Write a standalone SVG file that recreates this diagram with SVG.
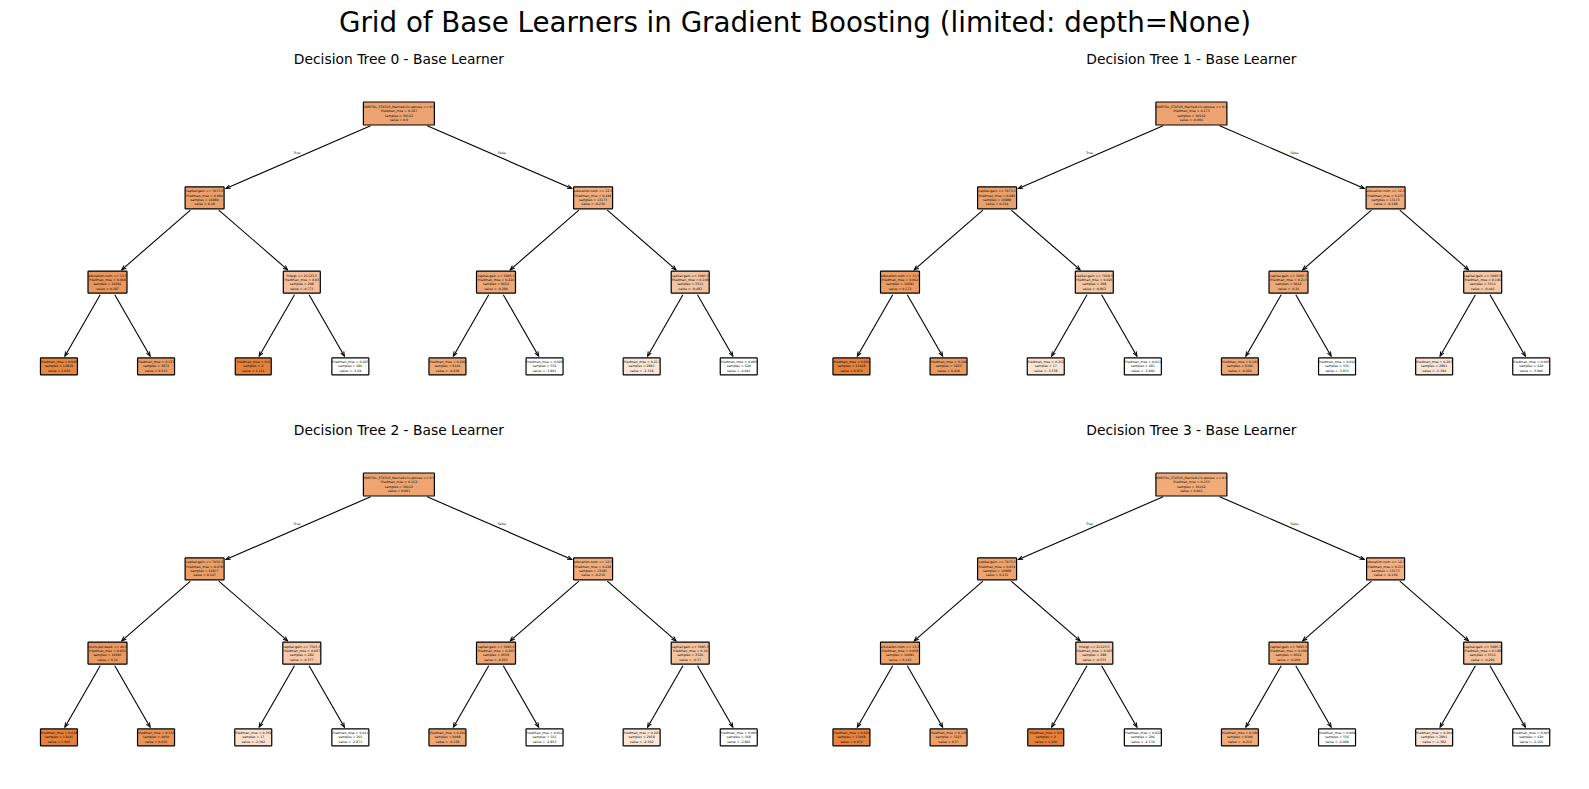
<svg xmlns="http://www.w3.org/2000/svg" width="1589" height="789" viewBox="0 0 1589 789">
<defs>
<style>
.bg{fill:#ffffff}
.title{font-family:"DejaVu Sans",sans-serif;font-size:27.7px;fill:#000;text-anchor:middle}
.sub{font-family:"DejaVu Sans",sans-serif;font-size:13.85px;fill:#000;text-anchor:middle}
.b{stroke:#000;stroke-width:1.2;}
.t{font-family:"DejaVu Sans",sans-serif;font-size:3.2px;fill:#000;text-anchor:middle}
.e{stroke:#000;stroke-width:1.1;fill:none;marker-end:url(#ah)}
.lbl{font-family:"DejaVu Sans",sans-serif;font-size:3.2px;fill:#000;text-anchor:middle}
</style>
<marker id="ah" markerUnits="userSpaceOnUse" markerWidth="6" markerHeight="6" viewBox="0 0 6 6" refX="5" refY="3" orient="auto">
<path d="M0.5,1.2 L5,3 L0.5,4.8" fill="none" stroke="#000" stroke-width="1"/>
</marker>
</defs>
<rect class="bg" x="0" y="0" width="1589" height="789"/>
<text class="title" x="795" y="32">Grid of Base Learners in Gradient Boosting (limited: depth=None)</text>
<text class="sub" x="398.9" y="64">Decision Tree 0 - Base Learner</text>
<text class="sub" x="1191.4" y="64">Decision Tree 1 - Base Learner</text>
<text class="sub" x="398.9" y="435">Decision Tree 2 - Base Learner</text>
<text class="sub" x="1191.4" y="435">Decision Tree 3 - Base Learner</text>

<g id="connectors">
<g id="edges-t0">
<line class="e" x1="370.6" y1="125.8" x2="225.9" y2="188.5"/>
<line class="e" x1="427.2" y1="125.8" x2="571.8" y2="188.5"/>
<line class="e" x1="190.4" y1="210.1" x2="121.7" y2="269.8"/>
<line class="e" x1="218.8" y1="210.1" x2="287.6" y2="269.8"/>
<line class="e" x1="578.9" y1="210.1" x2="510.2" y2="269.8"/>
<line class="e" x1="607.3" y1="210.1" x2="676.0" y2="269.8"/>
<line class="e" x1="100.2" y1="294.8" x2="64.85" y2="356.2"/>
<line class="e" x1="114.8" y1="294.8" x2="150.15" y2="356.2"/>
<line class="e" x1="294.5" y1="294.8" x2="259.15" y2="356.2"/>
<line class="e" x1="309.1" y1="294.8" x2="344.45" y2="356.2"/>
<line class="e" x1="488.7" y1="294.8" x2="453.35" y2="356.2"/>
<line class="e" x1="503.3" y1="294.8" x2="538.65" y2="356.2"/>
<line class="e" x1="682.9" y1="294.8" x2="647.55" y2="356.2"/>
<line class="e" x1="697.5" y1="294.8" x2="732.85" y2="356.2"/>
<text class="lbl" x="297" y="154">True</text>
<text class="lbl" x="502" y="154">False</text>
</g>
<g id="edges-t1" transform="translate(792.5,0)">
<line class="e" x1="370.6" y1="125.8" x2="225.9" y2="188.5"/>
<line class="e" x1="427.2" y1="125.8" x2="571.8" y2="188.5"/>
<line class="e" x1="190.4" y1="210.1" x2="121.7" y2="269.8"/>
<line class="e" x1="218.8" y1="210.1" x2="287.6" y2="269.8"/>
<line class="e" x1="578.9" y1="210.1" x2="510.2" y2="269.8"/>
<line class="e" x1="607.3" y1="210.1" x2="676.0" y2="269.8"/>
<line class="e" x1="100.2" y1="294.8" x2="64.85" y2="356.2"/>
<line class="e" x1="114.8" y1="294.8" x2="150.15" y2="356.2"/>
<line class="e" x1="294.5" y1="294.8" x2="259.15" y2="356.2"/>
<line class="e" x1="309.1" y1="294.8" x2="344.45" y2="356.2"/>
<line class="e" x1="488.7" y1="294.8" x2="453.35" y2="356.2"/>
<line class="e" x1="503.3" y1="294.8" x2="538.65" y2="356.2"/>
<line class="e" x1="682.9" y1="294.8" x2="647.55" y2="356.2"/>
<line class="e" x1="697.5" y1="294.8" x2="732.85" y2="356.2"/>
<text class="lbl" x="297" y="154">True</text>
<text class="lbl" x="502" y="154">False</text>
</g>
<g id="edges-t2" transform="translate(0,371)">
<line class="e" x1="370.6" y1="125.8" x2="225.9" y2="188.5"/>
<line class="e" x1="427.2" y1="125.8" x2="571.8" y2="188.5"/>
<line class="e" x1="190.4" y1="210.1" x2="121.7" y2="269.8"/>
<line class="e" x1="218.8" y1="210.1" x2="287.6" y2="269.8"/>
<line class="e" x1="578.9" y1="210.1" x2="510.2" y2="269.8"/>
<line class="e" x1="607.3" y1="210.1" x2="676.0" y2="269.8"/>
<line class="e" x1="100.2" y1="294.8" x2="64.85" y2="356.2"/>
<line class="e" x1="114.8" y1="294.8" x2="150.15" y2="356.2"/>
<line class="e" x1="294.5" y1="294.8" x2="259.15" y2="356.2"/>
<line class="e" x1="309.1" y1="294.8" x2="344.45" y2="356.2"/>
<line class="e" x1="488.7" y1="294.8" x2="453.35" y2="356.2"/>
<line class="e" x1="503.3" y1="294.8" x2="538.65" y2="356.2"/>
<line class="e" x1="682.9" y1="294.8" x2="647.55" y2="356.2"/>
<line class="e" x1="697.5" y1="294.8" x2="732.85" y2="356.2"/>
<text class="lbl" x="297" y="154">True</text>
<text class="lbl" x="502" y="154">False</text>
</g>
<g id="edges-t3" transform="translate(792.5,371)">
<line class="e" x1="370.6" y1="125.8" x2="225.9" y2="188.5"/>
<line class="e" x1="427.2" y1="125.8" x2="571.8" y2="188.5"/>
<line class="e" x1="190.4" y1="210.1" x2="121.7" y2="269.8"/>
<line class="e" x1="218.8" y1="210.1" x2="287.6" y2="269.8"/>
<line class="e" x1="578.9" y1="210.1" x2="510.2" y2="269.8"/>
<line class="e" x1="607.3" y1="210.1" x2="676.0" y2="269.8"/>
<line class="e" x1="100.2" y1="294.8" x2="64.85" y2="356.2"/>
<line class="e" x1="114.8" y1="294.8" x2="150.15" y2="356.2"/>
<line class="e" x1="294.5" y1="294.8" x2="259.15" y2="356.2"/>
<line class="e" x1="309.1" y1="294.8" x2="344.45" y2="356.2"/>
<line class="e" x1="488.7" y1="294.8" x2="453.35" y2="356.2"/>
<line class="e" x1="503.3" y1="294.8" x2="538.65" y2="356.2"/>
<line class="e" x1="682.9" y1="294.8" x2="647.55" y2="356.2"/>
<line class="e" x1="697.5" y1="294.8" x2="732.85" y2="356.2"/>
<text class="lbl" x="297" y="154">True</text>
<text class="lbl" x="502" y="154">False</text>
</g>
</g>

<g id="tree0">
<g id="t0-n0" transform="translate(398.9,113.5)"><rect class="b" x="-35.5" y="-11.5" width="71" height="23" rx="0.6" fill="#eea470"/><text class="t"><tspan x="0" y="-5.4">MARITAL_STATUS_Married-civ-spouse &lt;= 0.5</tspan><tspan x="0" y="-1.1">friedman_mse = 0.187</tspan><tspan x="0" y="3.2">samples = 30162</tspan><tspan x="0" y="7.5">value = 0.0</tspan></text></g>
<g id="t0-n1" transform="translate(204.6,197.8)"><rect class="b" x="-19.5" y="-11" width="39" height="22" rx="0.6" fill="#eca06a"/><text class="t"><tspan x="0" y="-5.4">capital-gain &lt;= 7073.5</tspan><tspan x="0" y="-1.1">friedman_mse = 0.094</tspan><tspan x="0" y="3.2">samples = 16989</tspan><tspan x="0" y="7.5">value = 0.18</tspan></text></g>
<g id="t0-n2" transform="translate(593.1,197.8)"><rect class="b" x="-19.5" y="-11" width="39" height="22" rx="0.6" fill="#f0ad7e"/><text class="t"><tspan x="0" y="-5.4">education-num &lt;= 12.5</tspan><tspan x="0" y="-1.1">friedman_mse = 0.248</tspan><tspan x="0" y="3.2">samples = 13173</tspan><tspan x="0" y="7.5">value = -0.236</tspan></text></g>
<g id="t0-n3" transform="translate(107.5,282.1)"><rect class="b" x="-19.5" y="-11" width="39" height="22" rx="0.6" fill="#e9975c"/><text class="t"><tspan x="0" y="-5.4">education-num &lt;= 13.5</tspan><tspan x="0" y="-1.1">friedman_mse = 0.069</tspan><tspan x="0" y="3.2">samples = 16691</tspan><tspan x="0" y="7.5">value = 0.197</tspan></text></g>
<g id="t0-n4" transform="translate(301.8,282.1)"><rect class="b" x="-18.5" y="-11" width="37" height="22" rx="0.6" fill="#f3bf9a"/><text class="t"><tspan x="0" y="-5.4">fnlwgt &lt;= 21123.5</tspan><tspan x="0" y="-1.1">friedman_mse = 0.03</tspan><tspan x="0" y="3.2">samples = 298</tspan><tspan x="0" y="7.5">value = -0.771</tspan></text></g>
<g id="t0-n5" transform="translate(496,282.1)"><rect class="b" x="-19.5" y="-11" width="39" height="22" rx="0.6" fill="#eda775"/><text class="t"><tspan x="0" y="-5.4">capital-gain &lt;= 5095.5</tspan><tspan x="0" y="-1.1">friedman_mse = 0.224</tspan><tspan x="0" y="3.2">samples = 9662</tspan><tspan x="0" y="7.5">value = -0.289</tspan></text></g>
<g id="t0-n6" transform="translate(690.2,282.1)"><rect class="b" x="-19" y="-11" width="38" height="22" rx="0.6" fill="#f3c4a2"/><text class="t"><tspan x="0" y="-5.4">capital-gain &lt;= 5095.5</tspan><tspan x="0" y="-1.1">friedman_mse = 0.108</tspan><tspan x="0" y="3.2">samples = 3511</tspan><tspan x="0" y="7.5">value = -0.483</tspan></text></g>
<g id="t0-l0" transform="translate(58.95,366.4)"><rect class="b" x="-18.5" y="-8.5" width="37" height="17" rx="0.6" fill="#e68641"/><text class="t"><tspan x="0" y="-3.25">friedman_mse = 0.026</tspan><tspan x="0" y="1.05">samples = 12819</tspan><tspan x="0" y="5.35">value = 1.036</tspan></text></g>
<g id="t0-l1" transform="translate(156.05,366.4)"><rect class="b" x="-18.5" y="-8.5" width="37" height="17" rx="0.6" fill="#eb9d65"/><text class="t"><tspan x="0" y="-3.25">friedman_mse = 0.133</tspan><tspan x="0" y="1.05">samples = 3872</tspan><tspan x="0" y="5.35">value = 0.513</tspan></text></g>
<g id="t0-l2" transform="translate(253.25,366.4)"><rect class="b" x="-18" y="-8.5" width="36" height="17" rx="0.6" fill="#e58139"/><text class="t"><tspan x="0" y="-3.25">friedman_mse = 0.0</tspan><tspan x="0" y="1.05">samples = 2</tspan><tspan x="0" y="5.35">value = 1.111</tspan></text></g>
<g id="t0-l3" transform="translate(350.35,366.4)"><rect class="b" x="-18.5" y="-8.5" width="37" height="17" rx="0.6" fill="#ffffff"/><text class="t"><tspan x="0" y="-3.25">friedman_mse = 0.025</tspan><tspan x="0" y="1.05">samples = 296</tspan><tspan x="0" y="5.35">value = -3.49</tspan></text></g>
<g id="t0-l4" transform="translate(447.45,366.4)"><rect class="b" x="-18.5" y="-8.5" width="37" height="17" rx="0.6" fill="#eda876"/><text class="t"><tspan x="0" y="-3.25">friedman_mse = 0.202</tspan><tspan x="0" y="1.05">samples = 9106</tspan><tspan x="0" y="5.35">value = -0.238</tspan></text></g>
<g id="t0-l5" transform="translate(544.55,366.4)"><rect class="b" x="-18.5" y="-8.5" width="37" height="17" rx="0.6" fill="#ffffff"/><text class="t"><tspan x="0" y="-3.25">friedman_mse = 0.028</tspan><tspan x="0" y="1.05">samples = 556</tspan><tspan x="0" y="5.35">value = -3.901</tspan></text></g>
<g id="t0-l6" transform="translate(641.65,366.4)"><rect class="b" x="-18.5" y="-8.5" width="37" height="17" rx="0.6" fill="#fae7d9"/><text class="t"><tspan x="0" y="-3.25">friedman_mse = 0.217</tspan><tspan x="0" y="1.05">samples = 2891</tspan><tspan x="0" y="5.35">value = -2.318</tspan></text></g>
<g id="t0-l7" transform="translate(738.75,366.4)"><rect class="b" x="-18.5" y="-8.5" width="37" height="17" rx="0.6" fill="#ffffff"/><text class="t"><tspan x="0" y="-3.25">friedman_mse = 0.005</tspan><tspan x="0" y="1.05">samples = 620</tspan><tspan x="0" y="5.35">value = -4.001</tspan></text></g>
</g>

<g id="tree1" transform="translate(792.5,0)">
<g id="t1-n0" transform="translate(398.9,113.5)"><rect class="b" x="-35.5" y="-11.5" width="71" height="23" rx="0.6" fill="#eea471"/><text class="t"><tspan x="0" y="-5.4">MARITAL_STATUS_Married-civ-spouse &lt;= 0.5</tspan><tspan x="0" y="-1.1">friedman_mse = 0.173</tspan><tspan x="0" y="3.2">samples = 30162</tspan><tspan x="0" y="7.5">value = -0.001</tspan></text></g>
<g id="t1-n1" transform="translate(204.6,197.8)"><rect class="b" x="-19.5" y="-11" width="39" height="22" rx="0.6" fill="#eca069"/><text class="t"><tspan x="0" y="-5.4">capital-gain &lt;= 7073.5</tspan><tspan x="0" y="-1.1">friedman_mse = 0.085</tspan><tspan x="0" y="3.2">samples = 16989</tspan><tspan x="0" y="7.5">value = 0.154</tspan></text></g>
<g id="t1-n2" transform="translate(593.1,197.8)"><rect class="b" x="-19.5" y="-11" width="39" height="22" rx="0.6" fill="#f0ad7d"/><text class="t"><tspan x="0" y="-5.4">education-num &lt;= 12.5</tspan><tspan x="0" y="-1.1">friedman_mse = 0.237</tspan><tspan x="0" y="3.2">samples = 13173</tspan><tspan x="0" y="7.5">value = -0.198</tspan></text></g>
<g id="t1-n3" transform="translate(107.5,282.1)"><rect class="b" x="-19.5" y="-11" width="39" height="22" rx="0.6" fill="#eb9c63"/><text class="t"><tspan x="0" y="-5.4">education-num &lt;= 13.5</tspan><tspan x="0" y="-1.1">friedman_mse = 0.062</tspan><tspan x="0" y="3.2">samples = 16691</tspan><tspan x="0" y="7.5">value = 0.172</tspan></text></g>
<g id="t1-n4" transform="translate(301.8,282.1)"><rect class="b" x="-19" y="-11" width="38" height="22" rx="0.6" fill="#f4c6a5"/><text class="t"><tspan x="0" y="-5.4">capital-gain &lt;= 7669.5</tspan><tspan x="0" y="-1.1">friedman_mse = 0.026</tspan><tspan x="0" y="3.2">samples = 298</tspan><tspan x="0" y="7.5">value = -0.862</tspan></text></g>
<g id="t1-n5" transform="translate(496,282.1)"><rect class="b" x="-19.5" y="-11" width="39" height="22" rx="0.6" fill="#eea876"/><text class="t"><tspan x="0" y="-5.4">capital-gain &lt;= 5095.5</tspan><tspan x="0" y="-1.1">friedman_mse = 0.213</tspan><tspan x="0" y="3.2">samples = 9662</tspan><tspan x="0" y="7.5">value = -0.26</tspan></text></g>
<g id="t1-n6" transform="translate(690.2,282.1)"><rect class="b" x="-19" y="-11" width="38" height="22" rx="0.6" fill="#f4c7a7"/><text class="t"><tspan x="0" y="-5.4">capital-gain &lt;= 5095.5</tspan><tspan x="0" y="-1.1">friedman_mse = 0.196</tspan><tspan x="0" y="3.2">samples = 3511</tspan><tspan x="0" y="7.5">value = -0.445</tspan></text></g>
<g id="t1-l0" transform="translate(58.95,366.4)"><rect class="b" x="-18.5" y="-8.5" width="37" height="17" rx="0.6" fill="#e5823b"/><text class="t"><tspan x="0" y="-3.25">friedman_mse = 0.024</tspan><tspan x="0" y="1.05">samples = 13468</tspan><tspan x="0" y="5.35">value = 0.972</tspan></text></g>
<g id="t1-l1" transform="translate(156.05,366.4)"><rect class="b" x="-18.5" y="-8.5" width="37" height="17" rx="0.6" fill="#eb9c63"/><text class="t"><tspan x="0" y="-3.25">friedman_mse = 0.106</tspan><tspan x="0" y="1.05">samples = 3223</tspan><tspan x="0" y="5.35">value = 0.418</tspan></text></g>
<g id="t1-l2" transform="translate(253.25,366.4)"><rect class="b" x="-18.5" y="-8.5" width="37" height="17" rx="0.6" fill="#fbe6d6"/><text class="t"><tspan x="0" y="-3.25">friedman_mse = 0.252</tspan><tspan x="0" y="1.05">samples = 17</tspan><tspan x="0" y="5.35">value = -3.538</tspan></text></g>
<g id="t1-l3" transform="translate(350.35,366.4)"><rect class="b" x="-18.5" y="-8.5" width="37" height="17" rx="0.6" fill="#ffffff"/><text class="t"><tspan x="0" y="-3.25">friedman_mse = 0.011</tspan><tspan x="0" y="1.05">samples = 281</tspan><tspan x="0" y="5.35">value = -3.996</tspan></text></g>
<g id="t1-l4" transform="translate(447.45,366.4)"><rect class="b" x="-18.5" y="-8.5" width="37" height="17" rx="0.6" fill="#eda775"/><text class="t"><tspan x="0" y="-3.25">friedman_mse = 0.192</tspan><tspan x="0" y="1.05">samples = 9106</tspan><tspan x="0" y="5.35">value = -0.226</tspan></text></g>
<g id="t1-l5" transform="translate(544.55,366.4)"><rect class="b" x="-18.5" y="-8.5" width="37" height="17" rx="0.6" fill="#ffffff"/><text class="t"><tspan x="0" y="-3.25">friedman_mse = 0.016</tspan><tspan x="0" y="1.05">samples = 556</tspan><tspan x="0" y="5.35">value = -3.953</tspan></text></g>
<g id="t1-l6" transform="translate(641.65,366.4)"><rect class="b" x="-18.5" y="-8.5" width="37" height="17" rx="0.6" fill="#fbe5d5"/><text class="t"><tspan x="0" y="-3.25">friedman_mse = 0.207</tspan><tspan x="0" y="1.05">samples = 2891</tspan><tspan x="0" y="5.35">value = -3.394</tspan></text></g>
<g id="t1-l7" transform="translate(738.75,366.4)"><rect class="b" x="-18.5" y="-8.5" width="37" height="17" rx="0.6" fill="#ffffff"/><text class="t"><tspan x="0" y="-3.25">friedman_mse = 0.005</tspan><tspan x="0" y="1.05">samples = 620</tspan><tspan x="0" y="5.35">value = -3.906</tspan></text></g>
</g>

<g id="tree2" transform="translate(0,371)">
<g id="t2-n0" transform="translate(398.9,113.5)"><rect class="b" x="-35.5" y="-11.5" width="71" height="23" rx="0.6" fill="#eea571"/><text class="t"><tspan x="0" y="-5.4">MARITAL_STATUS_Married-civ-spouse &lt;= 0.5</tspan><tspan x="0" y="-1.1">friedman_mse = 0.162</tspan><tspan x="0" y="3.2">samples = 30162</tspan><tspan x="0" y="7.5">value = 0.001</tspan></text></g>
<g id="t2-n1" transform="translate(204.6,197.8)"><rect class="b" x="-19.5" y="-11" width="39" height="22" rx="0.6" fill="#eca069"/><text class="t"><tspan x="0" y="-5.4">capital-gain &lt;= 7055.5</tspan><tspan x="0" y="-1.1">friedman_mse = 0.078</tspan><tspan x="0" y="3.2">samples = 16977</tspan><tspan x="0" y="7.5">value = 0.147</tspan></text></g>
<g id="t2-n2" transform="translate(593.1,197.8)"><rect class="b" x="-19.5" y="-11" width="39" height="22" rx="0.6" fill="#f0ad7d"/><text class="t"><tspan x="0" y="-5.4">education-num &lt;= 12.5</tspan><tspan x="0" y="-1.1">friedman_mse = 0.228</tspan><tspan x="0" y="3.2">samples = 13185</tspan><tspan x="0" y="7.5">value = -0.216</tspan></text></g>
<g id="t2-n3" transform="translate(107.5,282.1)"><rect class="b" x="-19.5" y="-11" width="39" height="22" rx="0.6" fill="#ea9a61"/><text class="t"><tspan x="0" y="-5.4">hours-per-week &lt;= 40.5</tspan><tspan x="0" y="-1.1">friedman_mse = 0.056</tspan><tspan x="0" y="3.2">samples = 16695</tspan><tspan x="0" y="7.5">value = 0.16</tspan></text></g>
<g id="t2-n4" transform="translate(301.8,282.1)"><rect class="b" x="-19" y="-11" width="38" height="22" rx="0.6" fill="#f5c9a9"/><text class="t"><tspan x="0" y="-5.4">capital-gain &lt;= 7565.5</tspan><tspan x="0" y="-1.1">friedman_mse = 0.027</tspan><tspan x="0" y="3.2">samples = 282</tspan><tspan x="0" y="7.5">value = -0.377</tspan></text></g>
<g id="t2-n5" transform="translate(496,282.1)"><rect class="b" x="-19.5" y="-11" width="39" height="22" rx="0.6" fill="#eda774"/><text class="t"><tspan x="0" y="-5.4">capital-gain &lt;= 5095.5</tspan><tspan x="0" y="-1.1">friedman_mse = 0.205</tspan><tspan x="0" y="3.2">samples = 9659</tspan><tspan x="0" y="7.5">value = -0.263</tspan></text></g>
<g id="t2-n6" transform="translate(690.2,282.1)"><rect class="b" x="-19" y="-11" width="38" height="22" rx="0.6" fill="#f3c3a0"/><text class="t"><tspan x="0" y="-5.4">capital-gain &lt;= 5095.5</tspan><tspan x="0" y="-1.1">friedman_mse = 0.19</tspan><tspan x="0" y="3.2">samples = 3526</tspan><tspan x="0" y="7.5">value = -0.37</tspan></text></g>
<g id="t2-l0" transform="translate(58.95,366.4)"><rect class="b" x="-18.5" y="-8.5" width="37" height="17" rx="0.6" fill="#e58139"/><text class="t"><tspan x="0" y="-3.25">friedman_mse = 0.028</tspan><tspan x="0" y="1.05">samples = 12645</tspan><tspan x="0" y="5.35">value = 1.066</tspan></text></g>
<g id="t2-l1" transform="translate(156.05,366.4)"><rect class="b" x="-18.5" y="-8.5" width="37" height="17" rx="0.6" fill="#e99558"/><text class="t"><tspan x="0" y="-3.25">friedman_mse = 0.132</tspan><tspan x="0" y="1.05">samples = 4050</tspan><tspan x="0" y="5.35">value = 0.656</tspan></text></g>
<g id="t2-l2" transform="translate(253.25,366.4)"><rect class="b" x="-18.5" y="-8.5" width="37" height="17" rx="0.6" fill="#fbe1ce"/><text class="t"><tspan x="0" y="-3.25">friedman_mse = 0.302</tspan><tspan x="0" y="1.05">samples = 17</tspan><tspan x="0" y="5.35">value = -2.302</tspan></text></g>
<g id="t2-l3" transform="translate(350.35,366.4)"><rect class="b" x="-18.5" y="-8.5" width="37" height="17" rx="0.6" fill="#ffffff"/><text class="t"><tspan x="0" y="-3.25">friedman_mse = 0.011</tspan><tspan x="0" y="1.05">samples = 265</tspan><tspan x="0" y="5.35">value = -2.871</tspan></text></g>
<g id="t2-l4" transform="translate(447.45,366.4)"><rect class="b" x="-18.5" y="-8.5" width="37" height="17" rx="0.6" fill="#eda775"/><text class="t"><tspan x="0" y="-3.25">friedman_mse = 0.201</tspan><tspan x="0" y="1.05">samples = 9098</tspan><tspan x="0" y="5.35">value = -0.138</tspan></text></g>
<g id="t2-l5" transform="translate(544.55,366.4)"><rect class="b" x="-18.5" y="-8.5" width="37" height="17" rx="0.6" fill="#ffffff"/><text class="t"><tspan x="0" y="-3.25">friedman_mse = 0.012</tspan><tspan x="0" y="1.05">samples = 561</tspan><tspan x="0" y="5.35">value = -2.853</tspan></text></g>
<g id="t2-l6" transform="translate(641.65,366.4)"><rect class="b" x="-18.5" y="-8.5" width="37" height="17" rx="0.6" fill="#fbe7d9"/><text class="t"><tspan x="0" y="-3.25">friedman_mse = 0.203</tspan><tspan x="0" y="1.05">samples = 2958</tspan><tspan x="0" y="5.35">value = -2.502</tspan></text></g>
<g id="t2-l7" transform="translate(738.75,366.4)"><rect class="b" x="-18.5" y="-8.5" width="37" height="17" rx="0.6" fill="#ffffff"/><text class="t"><tspan x="0" y="-3.25">friedman_mse = 0.005</tspan><tspan x="0" y="1.05">samples = 568</tspan><tspan x="0" y="5.35">value = -2.895</tspan></text></g>
</g>

<g id="tree3" transform="translate(792.5,371)">
<g id="t3-n0" transform="translate(398.9,113.5)"><rect class="b" x="-35.5" y="-11.5" width="71" height="23" rx="0.6" fill="#f0ab79"/><text class="t"><tspan x="0" y="-5.4">MARITAL_STATUS_Married-civ-spouse &lt;= 0.5</tspan><tspan x="0" y="-1.1">friedman_mse = 0.153</tspan><tspan x="0" y="3.2">samples = 30162</tspan><tspan x="0" y="7.5">value = 0.001</tspan></text></g>
<g id="t3-n1" transform="translate(204.6,197.8)"><rect class="b" x="-19.5" y="-11" width="39" height="22" rx="0.6" fill="#eda36e"/><text class="t"><tspan x="0" y="-5.4">capital-gain &lt;= 7073.5</tspan><tspan x="0" y="-1.1">friedman_mse = 0.074</tspan><tspan x="0" y="3.2">samples = 16989</tspan><tspan x="0" y="7.5">value = 0.131</tspan></text></g>
<g id="t3-n2" transform="translate(593.1,197.8)"><rect class="b" x="-19" y="-11" width="38" height="22" rx="0.6" fill="#f1b184"/><text class="t"><tspan x="0" y="-5.4">education-num &lt;= 12.5</tspan><tspan x="0" y="-1.1">friedman_mse = 0.217</tspan><tspan x="0" y="3.2">samples = 13173</tspan><tspan x="0" y="7.5">value = -0.169</tspan></text></g>
<g id="t3-n3" transform="translate(107.5,282.1)"><rect class="b" x="-19.5" y="-11" width="39" height="22" rx="0.6" fill="#eda26c"/><text class="t"><tspan x="0" y="-5.4">education-num &lt;= 13.5</tspan><tspan x="0" y="-1.1">friedman_mse = 0.058</tspan><tspan x="0" y="3.2">samples = 16691</tspan><tspan x="0" y="7.5">value = 0.143</tspan></text></g>
<g id="t3-n4" transform="translate(301.8,282.1)"><rect class="b" x="-18.5" y="-11" width="37" height="22" rx="0.6" fill="#f5cbad"/><text class="t"><tspan x="0" y="-5.4">fnlwgt &lt;= 21123.5</tspan><tspan x="0" y="-1.1">friedman_mse = 0.025</tspan><tspan x="0" y="3.2">samples = 298</tspan><tspan x="0" y="7.5">value = -0.533</tspan></text></g>
<g id="t3-n5" transform="translate(496,282.1)"><rect class="b" x="-19.5" y="-11" width="39" height="22" rx="0.6" fill="#eeaa79"/><text class="t"><tspan x="0" y="-5.4">capital-gain &lt;= 5095.5</tspan><tspan x="0" y="-1.1">friedman_mse = 0.199</tspan><tspan x="0" y="3.2">samples = 9662</tspan><tspan x="0" y="7.5">value = -0.209</tspan></text></g>
<g id="t3-n6" transform="translate(690.2,282.1)"><rect class="b" x="-19" y="-11" width="38" height="22" rx="0.6" fill="#f3c3a0"/><text class="t"><tspan x="0" y="-5.4">capital-gain &lt;= 5095.5</tspan><tspan x="0" y="-1.1">friedman_mse = 0.188</tspan><tspan x="0" y="3.2">samples = 3511</tspan><tspan x="0" y="7.5">value = -0.296</tspan></text></g>
<g id="t3-l0" transform="translate(58.95,366.4)"><rect class="b" x="-18.5" y="-8.5" width="37" height="17" rx="0.6" fill="#e68540"/><text class="t"><tspan x="0" y="-3.25">friedman_mse = 0.024</tspan><tspan x="0" y="1.05">samples = 13468</tspan><tspan x="0" y="5.35">value = 0.972</tspan></text></g>
<g id="t3-l1" transform="translate(156.05,366.4)"><rect class="b" x="-18.5" y="-8.5" width="37" height="17" rx="0.6" fill="#eea06a"/><text class="t"><tspan x="0" y="-3.25">friedman_mse = 0.128</tspan><tspan x="0" y="1.05">samples = 3223</tspan><tspan x="0" y="5.35">value = 0.57</tspan></text></g>
<g id="t3-l2" transform="translate(253.25,366.4)"><rect class="b" x="-18" y="-8.5" width="36" height="17" rx="0.6" fill="#e58139"/><text class="t"><tspan x="0" y="-3.25">friedman_mse = 0.0</tspan><tspan x="0" y="1.05">samples = 2</tspan><tspan x="0" y="5.35">value = 1.166</tspan></text></g>
<g id="t3-l3" transform="translate(350.35,366.4)"><rect class="b" x="-18.5" y="-8.5" width="37" height="17" rx="0.6" fill="#ffffff"/><text class="t"><tspan x="0" y="-3.25">friedman_mse = 0.022</tspan><tspan x="0" y="1.05">samples = 296</tspan><tspan x="0" y="5.35">value = -2.134</tspan></text></g>
<g id="t3-l4" transform="translate(447.45,366.4)"><rect class="b" x="-18.5" y="-8.5" width="37" height="17" rx="0.6" fill="#efab7a"/><text class="t"><tspan x="0" y="-3.25">friedman_mse = 0.186</tspan><tspan x="0" y="1.05">samples = 9106</tspan><tspan x="0" y="5.35">value = -0.212</tspan></text></g>
<g id="t3-l5" transform="translate(544.55,366.4)"><rect class="b" x="-18.5" y="-8.5" width="37" height="17" rx="0.6" fill="#ffffff"/><text class="t"><tspan x="0" y="-3.25">friedman_mse = 0.009</tspan><tspan x="0" y="1.05">samples = 556</tspan><tspan x="0" y="5.35">value = -2.099</tspan></text></g>
<g id="t3-l6" transform="translate(641.65,366.4)"><rect class="b" x="-18.5" y="-8.5" width="37" height="17" rx="0.6" fill="#fbe5d6"/><text class="t"><tspan x="0" y="-3.25">friedman_mse = 0.204</tspan><tspan x="0" y="1.05">samples = 2891</tspan><tspan x="0" y="5.35">value = -1.382</tspan></text></g>
<g id="t3-l7" transform="translate(738.75,366.4)"><rect class="b" x="-18.5" y="-8.5" width="37" height="17" rx="0.6" fill="#ffffff"/><text class="t"><tspan x="0" y="-3.25">friedman_mse = 0.003</tspan><tspan x="0" y="1.05">samples = 620</tspan><tspan x="0" y="5.35">value = -2.166</tspan></text></g>
</g>
</svg>
